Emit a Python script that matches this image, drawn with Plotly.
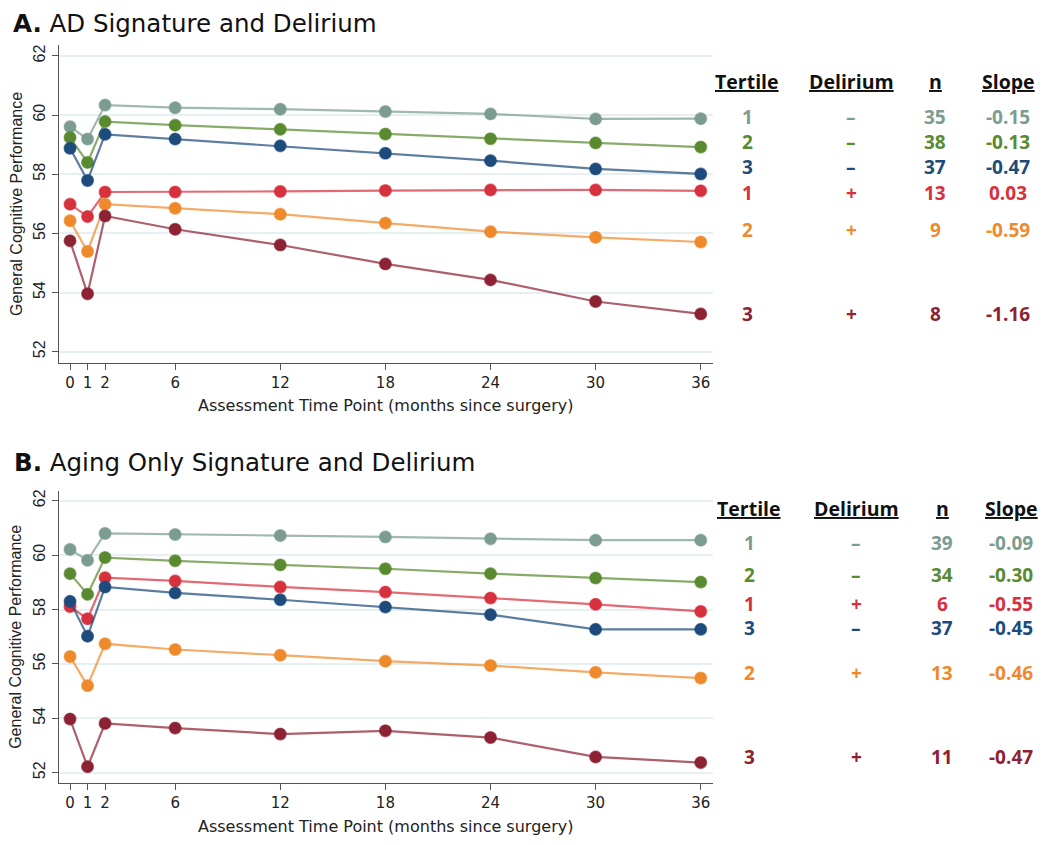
import plotly.graph_objects as go

months = [0, 1, 2, 6, 12, 18, 24, 30, 36]
x_ticks = [0, 1, 2, 6, 12, 18, 24, 30, 36]
y_ticks = [52, 54, 56, 58, 60, 62]

# Panel A: AD Signature and Delirium
a_t1_nodel = [59.61, 59.19, 60.34, 60.25, 60.20, 60.12, 60.04, 59.87, 59.88]
a_t2_nodel = [59.24, 58.40, 59.78, 59.66, 59.52, 59.36, 59.20, 59.06, 58.92]
a_t3_nodel = [58.88, 57.79, 59.35, 59.19, 58.96, 58.71, 58.46, 58.18, 58.01]
a_t1_del = [56.99, 56.57, 57.40, 57.40, 57.42, 57.45, 57.47, 57.47, 57.44]
a_t2_del = [56.43, 55.39, 56.99, 56.85, 56.65, 56.35, 56.06, 55.87, 55.71]
a_t3_del = [55.75, 53.96, 56.59, 56.14, 55.61, 54.97, 54.43, 53.70, 53.28]

# Panel B: Aging Only Signature and Delirium
b_t1_nodel = [60.21, 59.81, 60.80, 60.76, 60.72, 60.67, 60.60, 60.55, 60.55]
b_t2_nodel = [59.32, 58.56, 59.91, 59.79, 59.64, 59.50, 59.32, 59.16, 59.01]
b_t1_del = [58.11, 57.66, 59.17, 59.05, 58.83, 58.64, 58.42, 58.19, 57.93]
b_t3_nodel = [58.30, 57.02, 58.83, 58.61, 58.36, 58.09, 57.81, 57.27, 57.27]
b_t2_del = [56.27, 55.20, 56.74, 56.53, 56.32, 56.10, 55.94, 55.69, 55.48]
b_t3_del = [53.97, 52.22, 53.81, 53.64, 53.42, 53.54, 53.29, 52.58, 52.37]

# Table contents
a_tertile = ["1", "2", "3", "1", "2", "3"]
a_delirium = ["–", "–", "–", "+", "+", "+"]
a_n = ["35", "38", "37", "13", "9", "8"]
a_slope = ["-0.15", "-0.13", "-0.47", "0.03", "-0.59", "-1.16"]

b_tertile = ["1", "2", "1", "3", "2", "3"]
b_delirium = ["–", "–", "+", "–", "+", "+"]
b_n = ["39", "34", "6", "37", "13", "11"]
b_slope = ["-0.09", "-0.30", "-0.55", "-0.45", "-0.46", "-0.47"]

headers = ["Tertile", "Delirium", "n", "Slope"]

# Styles
C_T1N = "#7c9c90"
C_T2N = "#5a8a30"
C_T3N = "#1d4b7c"
C_T1D = "#d7313e"
C_T2D = "#ee8a2c"
C_T3D = "#8c2233"

a_series = [a_t1_nodel, a_t2_nodel, a_t3_nodel, a_t1_del, a_t2_del, a_t3_del]
a_colors = [C_T1N, C_T2N, C_T3N, C_T1D, C_T2D, C_T3D]
b_series = [b_t1_nodel, b_t2_nodel, b_t1_del, b_t3_nodel, b_t2_del, b_t3_del]
b_colors = [C_T1N, C_T2N, C_T1D, C_T3N, C_T2D, C_T3D]

# label row positions (y in data units of each panel)
a_row_y = [59.93, 59.10, 58.26, 57.36, 56.12, 53.28]
b_row_y = [60.45, 59.27, 58.20, 57.33, 55.66, 52.58]

# page offset (browser body margin) and figure size
OFF = 8
W, H = 1050 - OFF, 845 - OFF


def px(x):
    return (x - OFF) / W


def py(y):
    return 1 - (y - OFF) / H


def hex_rgba(h, a):
    h = h.lstrip("#")
    r, g, b = int(h[0:2], 16), int(h[2:4], 16), int(h[4:6], 16)
    return f"rgba({r},{g},{b},{a})"


fig = go.Figure()

for series, colors, xa, ya in [(a_series, a_colors, "x", "y"), (b_series, b_colors, "x2", "y2")]:
    for s, c in zip(series, colors):
        fig.add_trace(go.Scatter(
            x=months, y=s, mode="lines+markers", xaxis=xa, yaxis=ya,
            line=dict(color=hex_rgba(c, 0.72), width=2.2),
            marker=dict(color=c, size=12, line=dict(color=hex_rgba(c, 0.55), width=1.2)),
            showlegend=False, hoverinfo="skip",
        ))

xdom = [px(59), px(713)]
ydomA = [py(363), py(45)]
ydomB = [py(783), py(490.7)]

axis_common = dict(
    showline=True, linecolor="#555555", linewidth=1.4,
    ticks="outside", ticklen=6, tickwidth=1.2, tickcolor="#555555",
    zeroline=False,
)
xaxis_cfg = dict(axis_common, domain=xdom, range=[-0.63, 36.7], tickmode="array",
                 tickvals=x_ticks, ticktext=[str(t) for t in x_ticks], showgrid=False,
                 tickfont=dict(family="DejaVu Sans", size=15, color="#222222"))
yaxis_cfg = dict(axis_common, range=[51.62, 62.37], tickmode="array", tickvals=y_ticks,
                 ticktext=[str(t) for t in y_ticks], showgrid=True,
                 gridcolor="#e6eff1", gridwidth=1.5, tickangle=-90,
                 tickfont=dict(family="Liberation Sans, Arial", size=16, color="#222222"))

fig.update_layout(
    width=W, height=H,
    margin=dict(l=0, r=0, t=0, b=0),
    paper_bgcolor="white", plot_bgcolor="white",
    xaxis=dict(xaxis_cfg, anchor="y"),
    yaxis=dict(yaxis_cfg, domain=ydomA, anchor="x"),
    xaxis2=dict(xaxis_cfg, anchor="y2"),
    yaxis2=dict(yaxis_cfg, domain=ydomB, anchor="x2"),
)

ann = []
title_font = dict(family="DejaVu Sans", size=24.5, color="#111111")
ann.append(dict(text="<b>A.</b> AD Signature and Delirium", x=px(12), y=py(8),
                xref="paper", yref="paper", xanchor="left", yanchor="top", borderpad=0,
                showarrow=False, font=title_font))
ann.append(dict(text="<b>B.</b> Aging Only Signature and Delirium", x=px(12), y=py(462),
                xref="paper", yref="paper", xanchor="left", yanchor="middle",
                showarrow=False, font=title_font))

for ytop, ybot, xt_y in [(45, 363, 405), (490.7, 783, 826)]:
    ann.append(dict(text="General Cognitive Performance", x=px(16), y=py((ytop + ybot) / 2),
                    xref="paper", yref="paper", xanchor="center", yanchor="middle",
                    textangle=-90, showarrow=False,
                    font=dict(family="Liberation Sans, Arial", size=16, color="#222222")))
    ann.append(dict(text="Assessment Time Point (months since surgery)", x=px(385), y=py(xt_y),
                    xref="paper", yref="paper", xanchor="center", yanchor="middle",
                    showarrow=False,
                    font=dict(family="DejaVu Sans", size=16, color="#222222")))

col_x_A = [747, 851, 935, 1008]
col_x_B = [749, 856, 942, 1011]
table_font = "Open Sans, Lato, sans-serif"

for (hdr_y, col_x, yref, rows_y, cols, colors) in [
    (81.7, col_x_A, "y", a_row_y, [a_tertile, a_delirium, a_n, a_slope], a_colors),
    (508.3, col_x_B, "y2", b_row_y, [b_tertile, b_delirium, b_n, b_slope], b_colors),
]:
    for hx, h in zip(col_x, headers):
        ann.append(dict(text=f"<b><u>{h}</u></b>", x=px(hx), y=py(hdr_y),
                        xref="paper", yref="paper", xanchor="center", yanchor="middle",
                        showarrow=False, font=dict(family=table_font, size=19.5, color="#111111")))
    for cx, col in zip(col_x, cols):
        for ry, val, c in zip(rows_y, col, colors):
            ann.append(dict(text=f"<b>{val}</b>", x=px(cx), y=ry, xref="paper", yref=yref,
                            xanchor="center", yanchor="middle", showarrow=False,
                            font=dict(family=table_font, size=19, color=c)))

fig.update_layout(annotations=ann)
fig.write_html("out.html")
